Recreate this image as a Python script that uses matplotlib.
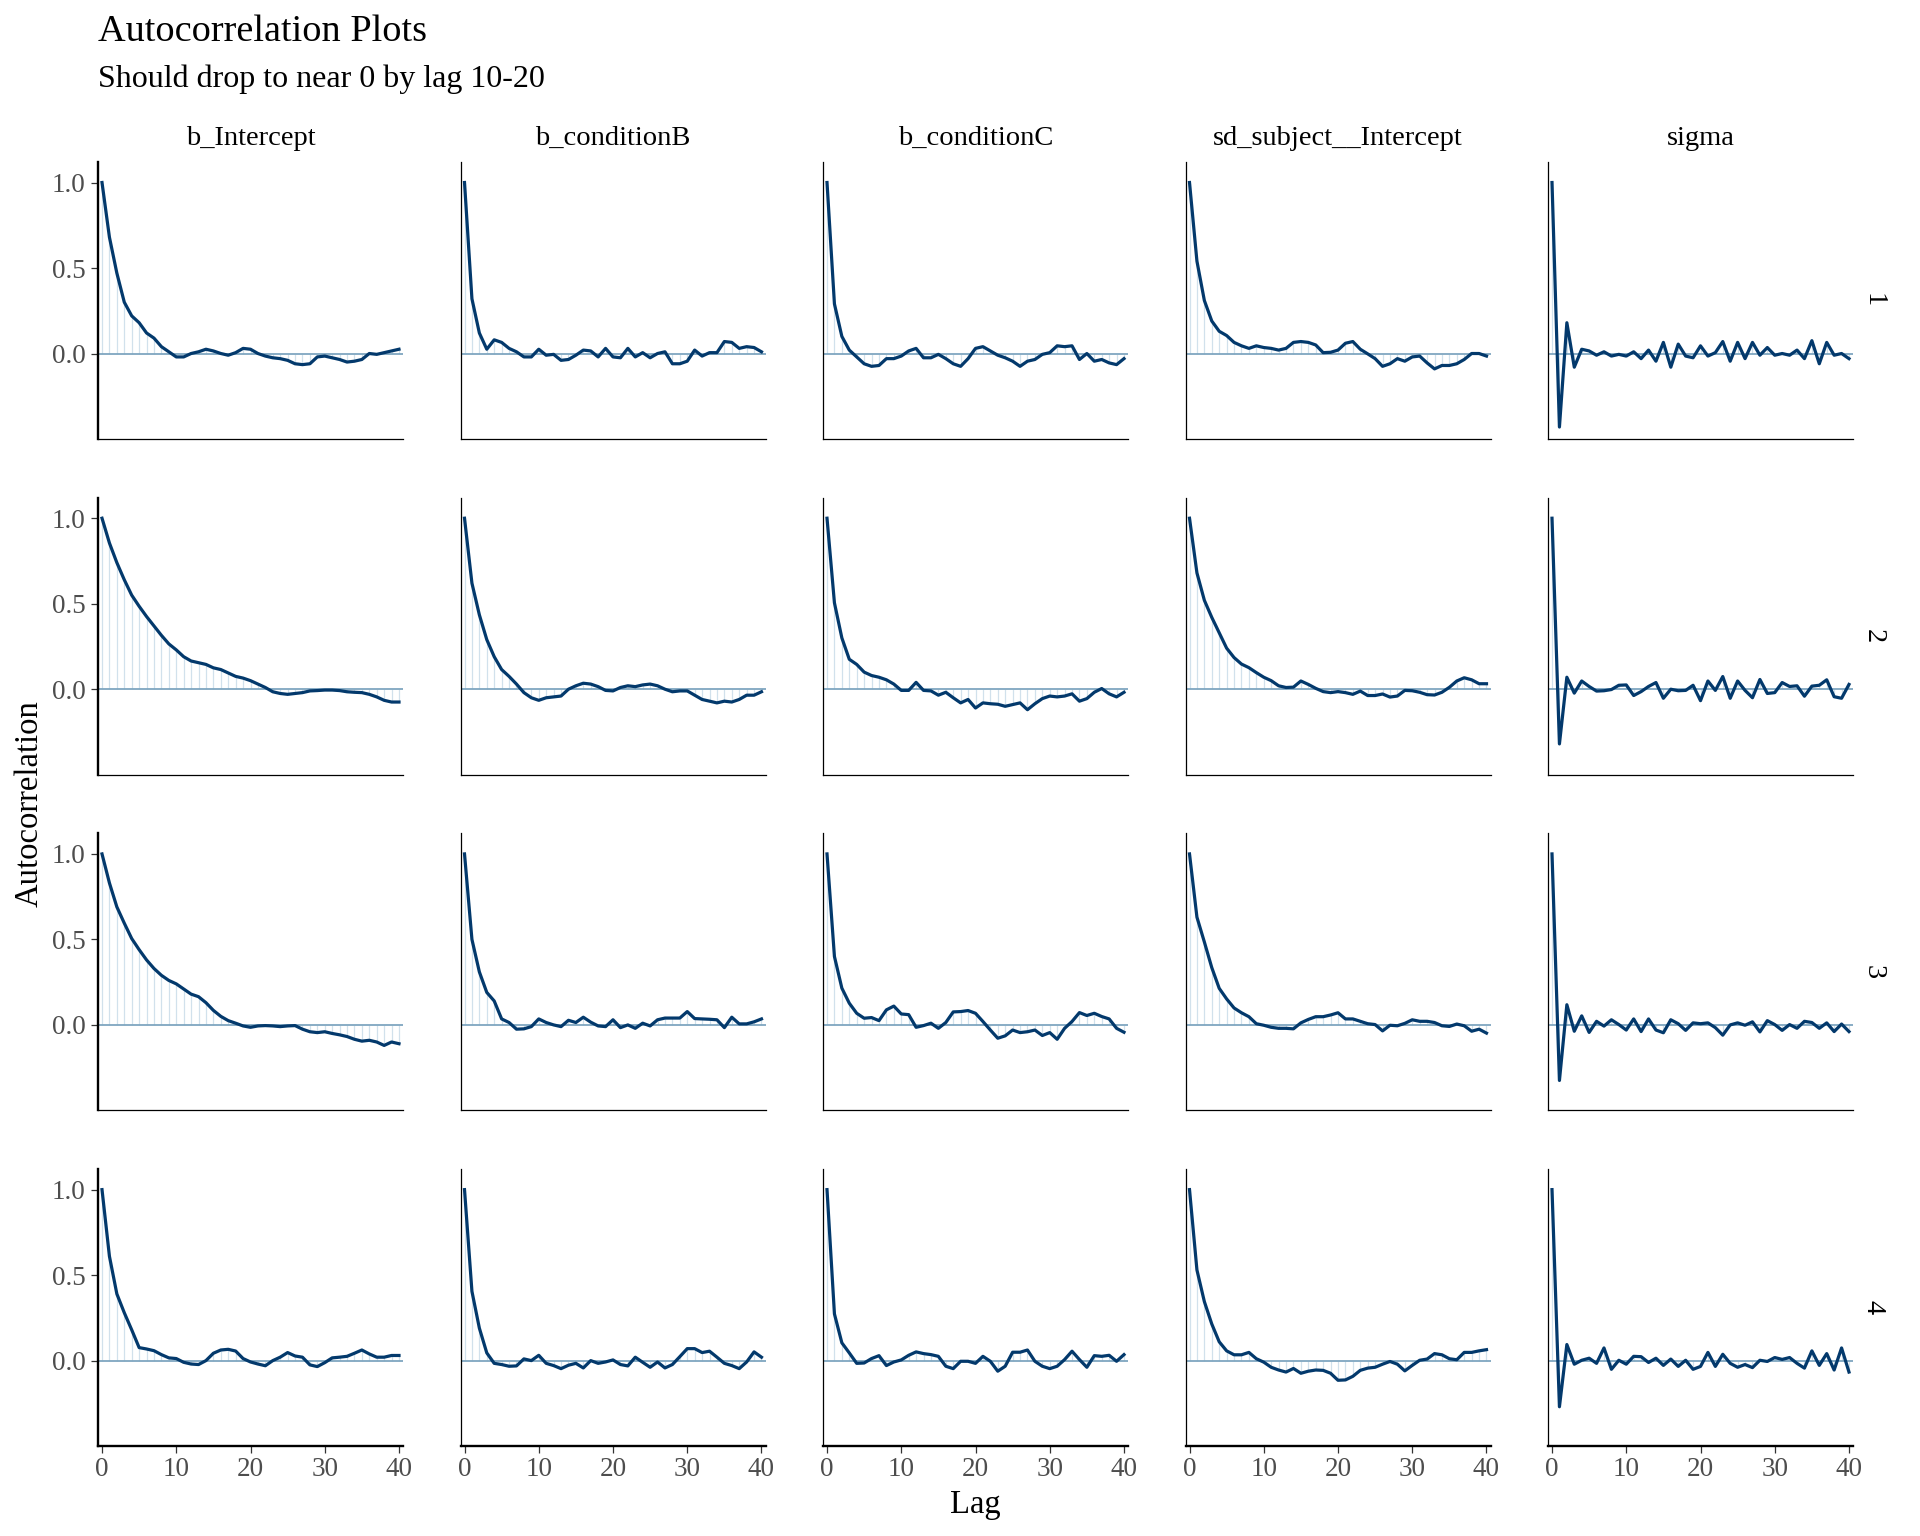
import numpy as np
import matplotlib
matplotlib.use('Agg')
import matplotlib.pyplot as plt

plt.rcParams['font.family'] = ['Liberation Serif', 'DejaVu Serif']

params = ['b_Intercept', 'b_conditionB', 'b_conditionC', 'sd_subject__Intercept', 'sigma']
chains = ['1', '2', '3', '4']
lags = list(range(41))

# autocorrelation per chain (rows 1-4), lags 0..40
acf_b_intercept = [
  [1.0, 0.68, 0.47, 0.30, 0.22, 0.18, 0.12, 0.09, 0.04, 0.01, -0.02, -0.02, 0.0, 0.01, 0.025, 0.015, 0.0, -0.01, 0.005, 0.03,
   0.025, 0.0, -0.015, -0.025, -0.03, -0.04, -0.06, -0.065, -0.06, -0.02, -0.015, -0.025, -0.035, -0.05, -0.045, -0.035, 0.0, -0.005, 0.005, 0.015, 0.025],
  [1.0, 0.855, 0.74, 0.64, 0.55, 0.485, 0.425, 0.37, 0.315, 0.265, 0.23, 0.19, 0.165, 0.155, 0.145, 0.125, 0.115, 0.095, 0.075, 0.065,
   0.05, 0.03, 0.01, -0.015, -0.025, -0.03, -0.025, -0.02, -0.01, -0.008, -0.005, -0.005, -0.008, -0.015, -0.018, -0.02, -0.03, -0.045, -0.065, -0.075, -0.075],
  [1.0, 0.83, 0.69, 0.595, 0.505, 0.44, 0.38, 0.33, 0.29, 0.26, 0.24, 0.21, 0.18, 0.165, 0.13, 0.085, 0.05, 0.025, 0.01, -0.006,
   -0.014, -0.006, -0.004, -0.006, -0.01, -0.006, -0.004, -0.025, -0.04, -0.045, -0.04, -0.05, -0.058, -0.068, -0.084, -0.095, -0.09, -0.1, -0.12, -0.1, -0.11],
  [1.0, 0.61, 0.39, 0.28, 0.18, 0.076, 0.068, 0.058, 0.035, 0.016, 0.012, -0.01, -0.02, -0.023, 0.0, 0.043, 0.062, 0.066, 0.056, 0.012,
   -0.008, -0.02, -0.03, 0.0, 0.02, 0.047, 0.027, 0.02, -0.025, -0.035, -0.012, 0.016, 0.02, 0.025, 0.043, 0.062, 0.039, 0.02, 0.02, 0.03, 0.03],
]
acf_b_conditionB = [
  [1.0, 0.32, 0.12, 0.025, 0.08, 0.065, 0.03, 0.01, -0.02, -0.02, 0.025, -0.01, -0.005, -0.04, -0.035, -0.01, 0.02, 0.015, -0.02, 0.03,
   -0.02, -0.025, 0.03, -0.02, 0.005, -0.025, 0.0, 0.01, -0.06, -0.06, -0.045, 0.02, -0.015, 0.005, 0.005, 0.07, 0.065, 0.03, 0.04, 0.035, 0.01],
  [1.0, 0.62, 0.435, 0.29, 0.19, 0.115, 0.075, 0.03, -0.02, -0.05, -0.065, -0.05, -0.045, -0.04, 0.0, 0.02, 0.035, 0.03, 0.015, -0.007,
   -0.01, 0.01, 0.02, 0.015, 0.025, 0.03, 0.02, 0.0, -0.015, -0.01, -0.01, -0.035, -0.06, -0.07, -0.08, -0.07, -0.075, -0.06, -0.035, -0.035, -0.015],
  [1.0, 0.50, 0.31, 0.19, 0.14, 0.035, 0.014, -0.025, -0.023, -0.01, 0.035, 0.014, 0.0, -0.01, 0.027, 0.014, 0.045, 0.016, -0.006, -0.01,
   0.03, -0.016, 0.0, -0.02, 0.01, -0.006, 0.03, 0.04, 0.04, 0.04, 0.078, 0.037, 0.035, 0.033, 0.03, -0.016, 0.045, 0.006, 0.006, 0.018, 0.035],
  [1.0, 0.405, 0.19, 0.045, -0.016, -0.023, -0.033, -0.031, 0.01, 0.0, 0.031, -0.016, -0.029, -0.047, -0.027, -0.016, -0.043, 0.0, -0.016, -0.008,
   0.004, -0.023, -0.031, 0.02, -0.01, -0.039, -0.008, -0.043, -0.023, 0.023, 0.07, 0.07, 0.047, 0.055, 0.02, -0.016, -0.029, -0.047, -0.008, 0.051, 0.02],
]
acf_b_conditionC = [
  [1.0, 0.29, 0.10, 0.02, -0.02, -0.06, -0.075, -0.07, -0.03, -0.03, -0.015, 0.015, 0.03, -0.025, -0.025, -0.005, -0.03, -0.06, -0.075, -0.03,
   0.03, 0.04, 0.015, -0.01, -0.025, -0.045, -0.075, -0.045, -0.035, -0.005, 0.005, 0.045, 0.04, 0.045, -0.035, 0.0, -0.045, -0.035, -0.055, -0.065, -0.03],
  [1.0, 0.505, 0.30, 0.175, 0.145, 0.10, 0.08, 0.07, 0.055, 0.03, -0.007, -0.007, 0.04, -0.007, -0.01, -0.035, -0.018, -0.05, -0.08, -0.06,
   -0.11, -0.08, -0.085, -0.088, -0.1, -0.09, -0.08, -0.12, -0.085, -0.055, -0.04, -0.045, -0.04, -0.027, -0.07, -0.055, -0.018, 0.004, -0.027, -0.045, -0.018],
  [1.0, 0.40, 0.215, 0.127, 0.068, 0.039, 0.043, 0.025, 0.088, 0.11, 0.064, 0.06, -0.014, -0.004, 0.01, -0.02, 0.014, 0.076, 0.078, 0.084,
   0.068, 0.02, -0.03, -0.078, -0.064, -0.03, -0.045, -0.04, -0.03, -0.062, -0.045, -0.084, -0.02, 0.02, 0.072, 0.055, 0.068, 0.049, 0.035, -0.02, -0.043],
  [1.0, 0.273, 0.104, 0.045, -0.016, -0.014, 0.012, 0.029, -0.029, -0.008, 0.004, 0.031, 0.051, 0.041, 0.035, 0.025, -0.033, -0.047, -0.004, -0.004,
   -0.016, 0.025, -0.004, -0.062, -0.033, 0.049, 0.049, 0.062, -0.004, -0.033, -0.047, -0.033, 0.006, 0.055, 0.006, -0.039, 0.029, 0.025, 0.031, -0.004, 0.035],
]
acf_sd_subject = [
  [1.0, 0.54, 0.31, 0.19, 0.13, 0.105, 0.065, 0.045, 0.03, 0.045, 0.035, 0.03, 0.02, 0.03, 0.065, 0.07, 0.065, 0.05, 0.005, 0.007,
   0.02, 0.06, 0.07, 0.025, -0.002, -0.03, -0.075, -0.06, -0.03, -0.045, -0.02, -0.015, -0.055, -0.09, -0.07, -0.07, -0.06, -0.035, 0.0, 0.0, -0.015],
  [1.0, 0.68, 0.52, 0.42, 0.33, 0.24, 0.185, 0.147, 0.126, 0.097, 0.07, 0.05, 0.02, 0.01, 0.012, 0.048, 0.028, 0.005, -0.014, -0.02,
   -0.014, -0.02, -0.03, -0.011, -0.037, -0.037, -0.028, -0.046, -0.04, -0.007, -0.009, -0.018, -0.032, -0.034, -0.018, 0.011, 0.048, 0.067, 0.055, 0.032, 0.032],
  [1.0, 0.63, 0.485, 0.335, 0.214, 0.152, 0.099, 0.071, 0.048, 0.007, -0.002, -0.014, -0.02, -0.02, -0.023, 0.012, 0.032, 0.048, 0.048, 0.058,
   0.071, 0.035, 0.035, 0.021, 0.007, 0.002, -0.035, -0.002, -0.005, 0.009, 0.03, 0.021, 0.021, 0.014, -0.005, -0.009, 0.005, -0.005, -0.037, -0.025, -0.048],
  [1.0, 0.53, 0.345, 0.214, 0.11, 0.057, 0.034, 0.034, 0.048, 0.011, -0.009, -0.039, -0.055, -0.067, -0.046, -0.074, -0.062, -0.055, -0.057, -0.074,
   -0.115, -0.113, -0.092, -0.057, -0.044, -0.039, -0.021, -0.005, -0.021, -0.06, -0.028, 0.002, 0.009, 0.041, 0.034, 0.011, 0.005, 0.048, 0.048, 0.057, 0.064],
]
acf_sigma = [
  [1.0, -0.43, 0.18, -0.08, 0.025, 0.015, -0.01, 0.01, -0.015, -0.005, -0.015, 0.01, -0.03, 0.02, -0.045, 0.065, -0.08, 0.055, -0.015, -0.025,
   0.045, -0.015, 0.005, 0.07, -0.045, 0.065, -0.03, 0.065, -0.01, 0.035, -0.01, 0.0, -0.01, 0.02, -0.03, 0.075, -0.06, 0.065, -0.01, 0.0, -0.03],
  [1.0, -0.32, 0.07, -0.023, 0.048, 0.016, -0.011, -0.009, -0.002, 0.023, 0.025, -0.037, -0.014, 0.016, 0.039, -0.053, 0.0, -0.009, -0.007, 0.023,
   -0.067, 0.048, -0.007, 0.074, -0.053, 0.048, -0.007, -0.05, 0.057, -0.025, -0.02, 0.039, 0.016, 0.02, -0.041, 0.018, 0.023, 0.055, -0.044, -0.053, 0.028],
  [1.0, -0.325, 0.118, -0.037, 0.053, -0.044, 0.021, -0.007, 0.03, 0.002, -0.03, 0.035, -0.039, 0.035, -0.03, -0.046, 0.03, 0.007, -0.032, 0.012,
   0.007, 0.012, -0.016, -0.06, 0.0, 0.012, -0.002, 0.018, -0.041, 0.025, 0.002, -0.032, 0.002, -0.02, 0.021, 0.014, -0.02, 0.012, -0.039, 0.005, -0.039],
  [1.0, -0.27, 0.094, -0.021, 0.002, 0.014, -0.016, 0.074, -0.051, 0.002, -0.021, 0.025, 0.023, -0.011, 0.014, -0.028, 0.009, -0.034, 0.002, -0.051,
   -0.034, 0.048, -0.034, 0.037, -0.016, -0.039, -0.023, -0.041, 0.002, -0.005, 0.018, 0.007, 0.018, -0.016, -0.044, 0.057, -0.028, 0.041, -0.055, 0.074, -0.067],
]
acf_all = [acf_b_intercept, acf_b_conditionB, acf_b_conditionC, acf_sd_subject, acf_sigma]

W, H = 1920, 1536
fig = plt.figure(figsize=(W / 100, H / 100), dpi=100)

x0, dx, pw = 98, 362.5, 305
y0, dy, ph = 162, 335.7, 277

dark = '#03396c'
light = '#d1e1ec'
mid = '#7fa6c0'
tick_col = '#4d4d4d'

for i, chain in enumerate(chains):
  for j, par in enumerate(params):
    left = x0 + j * dx
    top = y0 + i * dy
    ax = fig.add_axes([left / W, 1 - (top + ph) / H, pw / W, ph / H])
    vals = acf_all[j][i]
    ax.vlines(lags, 0, vals, color=light, lw=0.9, zorder=1)
    ax.axhline(0, color=mid, lw=1.3, zorder=2)
    ax.plot(lags, vals, color=dark, lw=2.3, zorder=3)
    ax.set_xlim(-0.54, 40.54)
    ax.set_ylim(-0.5, 1.12)
    for s in ['top', 'right']:
      ax.spines[s].set_visible(False)
    ax.spines['left'].set_linewidth(1.7 if j == 0 else 0.9)
    ax.spines['bottom'].set_linewidth(1.7 if i == len(chains) - 1 else 0.9)
    ax.spines['left'].set_color('black')
    ax.spines['bottom'].set_color('black')
    ax.set_xticks([0, 10, 20, 30, 40])
    ax.set_yticks([0.0, 0.5, 1.0])
    ax.set_yticklabels(['0.0', '0.5', '1.0'])
    ax.tick_params(axis='both', length=5, width=0.9, color='#333333',
                   labelsize=19.5, labelcolor=tick_col)
    ax.tick_params(axis='y', pad=4)
    ax.tick_params(axis='x', pad=3)
    if j != 0:
      ax.tick_params(axis='y', left=False, labelleft=False)
    if i != len(chains) - 1:
      ax.tick_params(axis='x', bottom=False, labelbottom=False)
    if i == 0:
      ax.text(0.5, 1 + 17 / ph, par, transform=ax.transAxes, ha='center',
              va='baseline', fontsize=20.5)
    if j == len(params) - 1:
      ax.text(1.0 + 20 / pw, 0.5, chain, transform=ax.transAxes, rotation=-90,
              ha='center', va='center', fontsize=20.5)

fig.text(98 / W, 1 - 41 / H, 'Autocorrelation Plots', fontsize=27.5, ha='left', va='baseline')
fig.text(98 / W, 1 - 87 / H, 'Should drop to near 0 by lag 10-20', fontsize=23, ha='left', va='baseline')
fig.text(29 / W, 1 - 804 / H, 'Autocorrelation', fontsize=23.5, rotation=90, ha='center', va='center')
fig.text(975 / W, 1 - 1505 / H, 'Lag', fontsize=23.5, ha='center', va='center')

fig.savefig('out.png', dpi=100, facecolor='white')
